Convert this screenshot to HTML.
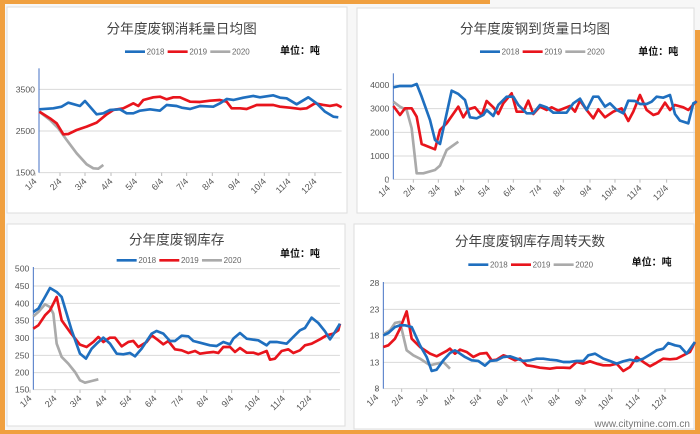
<!DOCTYPE html>
<html><head><meta charset="utf-8"><style>
html,body{margin:0;padding:0;background:#fff;}
svg{display:block;font-family:"Liberation Sans","Noto Sans CJK SC",sans-serif;}
</style></head><body>
<svg id="s" width="700" height="434" viewBox="0 0 700 434" xmlns="http://www.w3.org/2000/svg">
<rect width="700" height="434" fill="#f7f7f7"/>
<rect x="0" y="0" width="5" height="434" fill="#f0a040"/>
<rect x="0" y="0" width="490" height="4" fill="#f0a040"/>
<rect x="695" y="30" width="5" height="404" fill="#f0a040"/>
<rect x="0" y="430" width="700" height="4" fill="#f0a040"/>
<rect x="7" y="7" width="340" height="206" fill="#fff" stroke="#ddd"/>
<rect x="357" y="8" width="337" height="205" fill="#fff" stroke="#ddd"/>
<rect x="7" y="224" width="338" height="202" fill="#fff" stroke="#ddd"/>
<rect x="354" y="224" width="340" height="205" fill="#fff" stroke="#ddd"/>
<text x="690" y="427" font-size="10" fill="#777" text-anchor="end">www.citymine.com.cn</text>
</svg>
<script>
var S=document.getElementById('s'),NS='http://www.w3.org/2000/svg';
function el(p,t,a,txt){var e=document.createElementNS(NS,t);for(var k in a)e.setAttribute(k,a[k]);if(txt)e.textContent=txt;p.appendChild(e);return e;}
function line(g,pts,c,w){el(g,'polyline',{points:pts.map(function(p){return p.join(',')}).join(' '),fill:'none',stroke:c,'stroke-width':w,'stroke-linejoin':'round'});}
var M=['1/4','2/4','3/4','4/4','5/4','6/4','7/4','8/4','9/4','10/4','11/4','12/4'];
function chart(o){
 var g=el(S,'g',{transform:'translate('+o.ox+','+o.oy+') scale(0.3333)'});
 el(g,'text',{x:o.tx,y:o.ty,'font-size':41,fill:'#444','text-anchor':'middle'},o.title);
 var lx=o.lx,ly=o.ly,names=['2018','2019','2020'],cols=['#1f6fbf','#e8141c','#aaaaaa'];
 for(var i=0;i<3;i++){var x=lx+i*128;line(g,[[x,ly],[x+60,ly]],cols[i],8);el(g,'text',{x:x+65,y:ly+8,'font-size':24,fill:'#666'},names[i]);}
 el(g,'text',{x:o.ux,y:o.uy,'font-size':30,'font-weight':'bold',fill:'#111'},'单位：吨');
 o.grid.forEach(function(v){el(g,'line',{x1:o.ax,x2:o.rx,y1:v[0],y2:v[0],stroke:'#dadada','stroke-width':3});
  el(g,'text',{x:o.ax-12,y:v[0]+9,'font-size':26,fill:'#555','text-anchor':'end'},v[1]);});
 var bot=o.grid[o.grid.length-1][0];
 el(g,'line',{x1:o.ax,x2:o.ax,y1:o.atop,y2:bot,stroke:'#4472c4','stroke-width':3});
 o.mx.forEach(function(x,i){el(g,'line',{x1:x+15,x2:x+15,y1:bot,y2:bot+10,stroke:'#bbb','stroke-width':3});
  el(g,'text',{x:x+22,y:bot+28,'font-size':27,fill:'#555','text-anchor':'end',transform:'rotate(-45 '+(x+22)+' '+(bot+28)+')'},M[i]);});
 line(g,o.gray,'#aaaaaa',8);line(g,o.red,'#e8141c',8);line(g,o.blue,'#1f6fbf',8);
}
chart({ox:0,oy:0,title:'分年度废钢消耗量日均图',tx:545,ty:100,lx:375,ly:155,ux:840,uy:162,ax:117,rx:1025,atop:205,
grid:[[268,'3500'],[393,'2500'],[518,'1500']],mx:[90,165,240,318,392,470,545,622,700,778,852,930],
blue:[[118,328],[160,325],[185,320],[205,308],[240,318],[255,303],[290,343],[310,340],[330,330],[360,328],[380,340],[400,340],[420,332],[450,328],[480,332],[500,315],[530,318],[545,323],[570,327],[600,318],[640,320],[660,310],[680,297],[700,300],[730,293],[760,288],[780,292],[820,286],[840,293],[860,295],[890,313],[925,292],[950,310],[975,335],[1000,350],[1015,352]],
red:[[118,335],[150,355],[170,370],[190,403],[205,402],[230,390],[260,380],[290,368],[320,343],[340,330],[370,325],[400,310],[415,318],[430,300],[460,292],[480,290],[500,298],[520,292],[540,292],[570,305],[600,306],[630,302],[660,300],[680,305],[695,325],[720,325],[740,327],[770,315],[820,315],[840,320],[870,323],[900,327],[920,325],[945,310],[970,315],[990,318],[1010,314],[1025,322]],
gray:[[118,335],[150,360],[175,385],[200,420],[230,460],[260,493],[280,505],[295,506],[310,495]]});
chart({ox:350,oy:0,title:'分年度废钢到货量日均图',tx:555,ty:100,lx:390,ly:155,ux:865,uy:165,ax:130,rx:1035,atop:220,
grid:[[255,'4000'],[326,'3000'],[397,'2000'],[468,'1000'],[538,'0']],mx:[100,175,250,325,400,475,555,625,705,780,855,935],
blue:[[130,262],[150,258],[185,258],[200,252],[215,290],[240,360],[255,420],[270,432],[305,272],[325,282],[345,300],[360,352],[380,355],[400,345],[410,330],[430,348],[445,315],[470,290],[490,290],[505,315],[530,340],[550,340],[570,315],[590,322],[610,338],[650,338],[670,310],[690,296],[710,330],[730,290],[745,290],[765,320],[780,310],[800,330],[820,340],[835,302],[855,303],[870,312],[890,312],[905,305],[920,290],[940,293],[960,285],[975,342],[990,362],[1015,370],[1030,310],[1040,305]],
red:[[130,318],[150,345],[165,325],[185,325],[200,350],[215,432],[230,438],[255,448],[270,390],[290,370],[325,320],[340,352],[355,328],[375,322],[395,346],[410,303],[430,322],[445,342],[460,310],[485,280],[500,335],[520,335],[535,302],[550,342],[570,320],[590,330],[605,322],[625,332],[660,318],[675,335],[690,302],[710,330],[730,355],[745,328],[765,352],[790,335],[815,325],[835,363],[850,335],[870,285],[890,330],[910,345],[925,340],[945,308],[960,330],[975,315],[1000,322],[1015,330],[1040,303]],
gray:[[130,305],[150,320],[170,330],[185,385],[200,520],[220,520],[255,510],[270,497],[290,450],[325,425]]});
chart({ox:0,oy:217,title:'分年度废钢库存',tx:530,ty:82,lx:350,ly:130,ux:840,uy:120,ax:100,rx:1020,atop:150,
grid:[[155,'500'],[207,'450'],[259,'400'],[311,'350'],[363,'300'],[415,'250'],[467,'200'],[518,'150']],mx:[75,150,225,300,375,450,530,605,680,760,835,915],
blue:[[100,285],[115,275],[135,240],[150,213],[170,225],[185,240],[215,340],[240,410],[258,425],[275,395],[290,380],[310,362],[330,380],[350,410],[370,412],[390,408],[405,418],[425,395],[455,350],[470,342],[490,350],[510,372],[525,372],[545,356],[565,358],[580,372],[600,377],[630,385],[650,387],[670,375],[690,382],[700,365],[720,348],[740,365],[760,368],[775,370],[800,385],[810,375],[830,375],[860,380],[880,360],[900,340],[915,333],[935,302],[955,318],[975,343],[990,367],[1005,345],[1020,320]],
red:[[100,335],[115,325],[135,295],[150,280],[170,240],[185,310],[210,345],[240,383],[260,390],[280,375],[295,360],[310,375],[330,362],[345,362],[365,388],[385,375],[400,372],[415,390],[440,375],[455,355],[475,370],[490,382],[505,372],[525,397],[545,400],[565,408],[585,402],[600,410],[620,407],[640,405],[655,408],[670,390],[690,390],[705,405],[720,393],[740,407],[760,407],[775,412],[800,402],[810,428],[825,425],[845,402],[865,397],[880,408],[900,400],[915,385],[935,380],[960,367],[980,355],[1000,350],[1015,340],[1020,320]],
gray:[[100,298],[115,285],[135,262],[150,270],[160,290],[170,380],[185,420],[205,440],[225,465],[240,490],[255,497],[275,492],[295,487]]});
chart({ox:350,oy:217,title:'分年度废钢库存周转天数',tx:540,ty:87,lx:355,ly:143,ux:845,uy:145,ax:100,rx:1035,atop:195,
grid:[[198,'28'],[277,'23'],[356,'18'],[436,'13'],[515,'8']],mx:[65,140,215,295,375,455,530,610,690,770,850,930],
blue:[[100,355],[115,348],[135,330],[150,325],[165,325],[185,330],[210,385],[230,420],[245,462],[260,458],[280,430],[300,408],[315,400],[330,410],[345,420],[365,430],[385,432],[405,446],[420,432],[440,430],[460,420],[480,418],[500,425],[520,432],[540,430],[560,425],[580,425],[600,428],[620,430],[640,435],[660,435],[680,432],[700,432],[715,415],[735,410],[760,425],[780,432],[800,440],[820,433],[840,428],[860,432],[880,425],[900,413],[920,400],[940,395],[955,378],[975,385],[990,388],[1010,410],[1035,375]],
red:[[100,390],[115,385],[135,365],[150,335],[170,283],[185,365],[210,390],[240,410],[260,418],[290,402],[300,395],[315,410],[330,398],[350,405],[370,420],[390,410],[410,408],[425,430],[440,428],[460,415],[475,420],[495,430],[510,425],[530,445],[550,448],[570,452],[600,455],[620,452],[640,452],[660,453],[680,435],[700,440],[720,433],[740,440],[760,445],[780,445],[800,440],[820,462],[840,450],[860,420],[880,435],[900,448],[920,437],[940,425],[960,427],[980,425],[1000,415],[1020,405],[1035,375]],
gray:[[100,352],[120,340],[135,318],[150,315],[170,400],[190,415],[210,425],[240,445],[260,440],[280,435],[300,455]]});
</script>
</body></html>
